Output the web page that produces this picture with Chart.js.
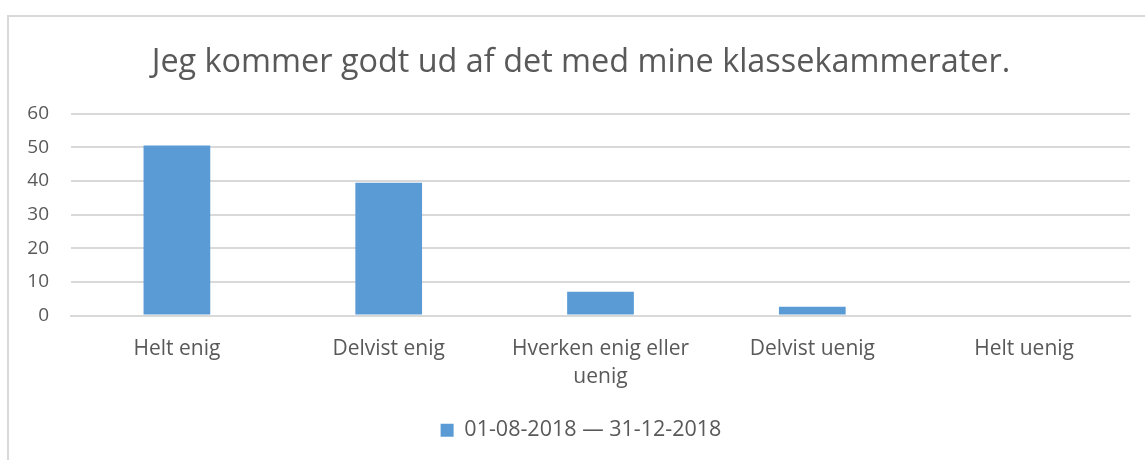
<!DOCTYPE html>
<html>
<head>
<meta charset="utf-8">
<script src="https://cdn.jsdelivr.net/npm/chart.js@4"></script>
<style>
  html, body { margin: 0; padding: 0; background: #fff; }
  .wrap { position: relative; width: 1145px; height: 460px; overflow: hidden; }
  .frame { position: absolute; left: 7px; top: 15px; width: 1200px; height: 500px; border: 2px solid #d9d9d9; }
  .chart { position: absolute; left: 0; top: 0; width: 1145px; height: 460px; }
</style>
</head>
<body>
<div class="wrap">
  <div class="frame"></div>
  <div class="chart"><canvas id="chart"></canvas></div>
</div>
<script>
const title = 'Jeg kommer godt ud af det med mine klassekammerater.';
const categories = ['Helt enig', 'Delvist enig', ['Hverken enig eller', 'uenig'], 'Delvist uenig', 'Helt uenig'];
const seriesLabel = '01-08-2018 \u2014 31-12-2018';
const values = [50.6, 39.5, 7.1, 2.6, 0];
const yTicks = [0, 10, 20, 30, 40, 50, 60];

const textColor = '#595959';
const lineColor = '#d9d9d9';

Chart.defaults.font.family = "'Open Sans', sans-serif";
Chart.defaults.color = textColor;

new Chart(document.getElementById('chart'), {
  type: 'bar',
  data: {
    labels: categories,
    datasets: [
      {
        label: seriesLabel,
        data: values,
        backgroundColor: '#5b9bd5',
        borderWidth: 0,
        categoryPercentage: 1,
        barPercentage: 0.315,
      },
    ],
  },
  options: {
    responsive: true,
    maintainAspectRatio: false,
    animation: false,
    layout: {
      // title and legend are centred on the frame, not the plot
      padding: { left: 17, right: 0, top: 0, bottom: 9 },
    },
    plugins: {
      title: {
        display: true,
        text: title,
        color: textColor,
        font: { size: 32.4, weight: 'normal' },
        padding: { top: 43, bottom: 32 },
      },
      legend: {
        position: 'bottom',
        labels: {
          boxWidth: 13,
          boxHeight: 13,
          color: textColor,
          font: { size: 21.5 },
          padding: 10,
        },
      },
      tooltip: { enabled: false },
    },
    scales: {
      x: {
        grid: { display: false },
        border: { color: lineColor, width: 2 },
        ticks: {
          color: textColor,
          font: { size: 21, lineHeight: 1.33 },
          maxRotation: 0,
          autoSkip: false,
          padding: 12,
        },
        afterFit: (axis) => {
          axis.height = 94;
        },
      },
      y: {
        min: 0,
        max: 60,
        afterBuildTicks: (axis) => {
          axis.ticks = yTicks.map((v) => ({ value: v }));
        },
        afterFit: (axis) => {
          axis.width = 54;
        },
        grid: { color: lineColor, lineWidth: 2, drawTicks: false },
        border: { display: false },
        ticks: {
          color: textColor,
          font: { size: 19 },
          padding: 22,
        },
      },
      // empty right-hand gutter
      gutter: {
        type: 'linear',
        position: 'right',
        grid: { display: false },
        border: { display: false },
        ticks: { display: false },
        afterFit: (axis) => {
          axis.width = 15;
        },
      },
    },
  },
});
</script>
</body>
</html>
